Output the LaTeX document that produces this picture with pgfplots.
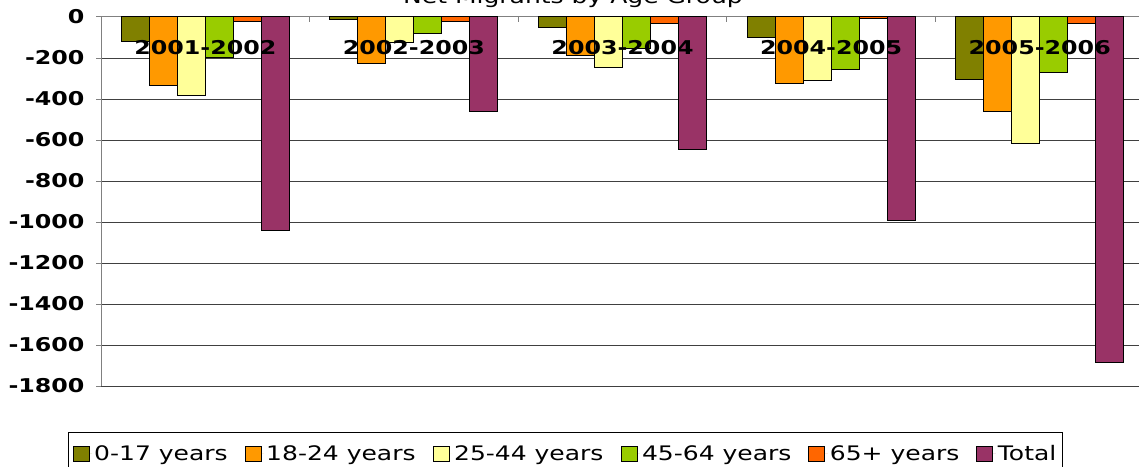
\documentclass[border=0pt]{standalone}
\usepackage{pgfplots}
\pgfplotsset{compat=1.18}
\usepackage{fontspec}
\setmainfont{DejaVu Sans}[FakeStretch=1.25]
\definecolor{cA}{HTML}{808000}
\definecolor{cB}{HTML}{FF9900}
\definecolor{cC}{HTML}{FFFF99}
\definecolor{cD}{HTML}{99CC00}
\definecolor{cE}{HTML}{FF6600}
\definecolor{cF}{HTML}{993366}
\begin{document}
\begin{tikzpicture}
\begin{axis}[
  name=ax,
  set layers=standard,
  width=1043pt, height=369pt, scale only axis,
  xmin=-0.5, xmax=4.5, ymin=-1800, ymax=0,
  ybar=0pt, bar width=28pt,
  axis x line*=top, axis y line*=left,
  axis line style={draw=gray, line width=1pt},
  tick align=outside,
  major tick length=5pt,
  xtick={0,1,2,3,4},
  xticklabels={2001-2002,2002-2003,2003-2004,2004-2005,2005-2006},
  xtick style={draw=none},
  xticklabel style={/pgfplots/on layer=axis foreground, anchor=center, yshift=-36pt, font=\fontsize{19}{22}\selectfont\bfseries},
  extra x ticks={0.5,1.5,2.5,3.5},
  extra x tick labels={},
  extra x tick style={xtick style={draw=gray, line width=1pt, yshift=-5pt}},
  ytick={-1800,-1600,...,0},
  ytick style={draw=gray, line width=1pt},
  yticklabel style={font=\fontsize{19}{22}\selectfont\bfseries, xshift=-8pt},
  /pgf/number format/assume math mode=true,
  /pgf/number format/1000 sep={},
  ymajorgrids,
  grid style={draw=black!75, line width=1pt},
  title={Net Migrants by Age Group},
  title style={at={(0.4525,1)}, anchor=base, yshift=7pt, inner sep=0pt, font=\fontsize{20}{24}\selectfont},
  legend style={at={(-0.0319,-0.1247)}, anchor=north west, draw=black, line width=1pt,
    font=\fontsize{20}{24}\selectfont, legend columns=-1,
    /tikz/every even column/.append style={column sep=15pt},
    inner xsep=4.5pt, inner ysep=11pt},
  legend image code/.code={\path[draw=none] (0pt,0pt) -- (19pt,0pt); \draw[#1, line width=1pt] (0pt,-7.5pt) rectangle (16pt,7.5pt);},
  every axis plot/.append style={draw=black, line width=1pt},
]
\addplot[fill=cA] coordinates {(0,-120) (1,-10) (2,-50) (3,-99) (4,-304)};
\addplot[fill=cB] coordinates {(0,-333) (1,-226) (2,-190) (3,-324) (4,-460)};
\addplot[fill=cC] coordinates {(0,-382) (1,-125) (2,-245) (3,-312) (4,-616)};
\addplot[fill=cD] coordinates {(0,-197) (1,-80) (2,-156) (3,-255) (4,-271)};
\addplot[fill=cE] coordinates {(0,-20) (1,-20) (2,-30) (3,-8) (4,-30)};
\addplot[fill=cF] coordinates {(0,-1039) (1,-460) (2,-645) (3,-994) (4,-1683)};
\legend{0-17 years,18-24 years,25-44 years,45-64 years,65+ years,Total}
\end{axis}
\pgfresetboundingbox
\path[use as bounding box] ([xshift=-101pt,yshift=17pt]ax.north west) rectangle ([xshift=-5pt,yshift=-80pt]ax.south east);
\end{tikzpicture}
\end{document}
